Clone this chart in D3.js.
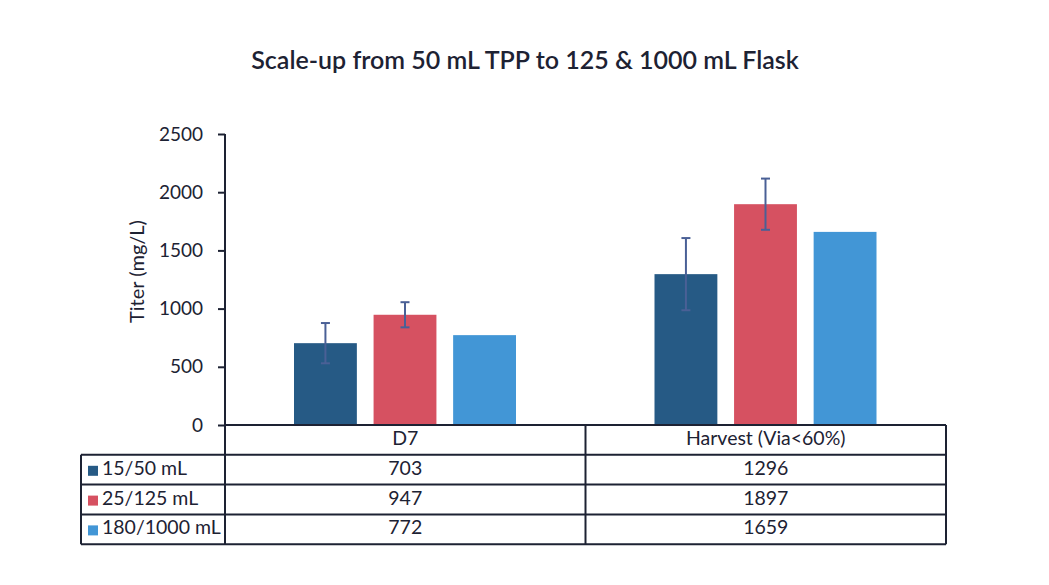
<html>
<head>
<script src="https://d3js.org/d3.v7.min.js"></script>
<style>
  body { margin: 0; background: #fff; }
  text { font-family: Lato, "Noto Sans", sans-serif; fill: #1d2233; }
</style>
</head>
<body>
<svg id="chart" width="1049" height="585"></svg>
<script>
const categories = ['D7', 'Harvest (Via<60%)'];
const seriesNames = ['15/50 mL', '25/125 mL', '180/1000 mL'];
const seriesColors = ['#265a85', '#d65161', '#4296d6'];
const values = [
  [703, 1296],
  [947, 1897],
  [772, 1659]
];
// error bar half-widths (none drawn for the last series)
const errors = [
  [173, 310],
  [108, 220],
  [null, null]
];
const yTicks = [0, 500, 1000, 1500, 2000, 2500];
const title = 'Scale-up from 50 mL TPP to 125 & 1000 mL Flask';
const yLabel = 'Titer (mg/L)';

const svg = d3.select('svg#chart');
const plotLeft = 225, plotRight = 946, plotTop = 134, plotBottom = 425;
const rowH = 29.8;
const legendLeft = 81;
const ink = '#1d2233';
const fs = '19px';

const x = d3.scaleBand().domain(categories).range([plotLeft, plotRight]);
const xs = d3.scaleBand().domain(seriesNames).range([69, 291]).paddingInner(0.21);
const y = d3.scaleLinear().domain([0, 2500]).range([plotBottom, plotTop]);

svg.append('text')
  .attr('x', 525).attr('y', 69)
  .attr('text-anchor', 'middle')
  .style('font-size', '25px')
  .style('font-weight', 600)
  .text(title);

// bars
seriesNames.forEach((s, i) => {
  categories.forEach((c, j) => {
    svg.append('rect')
      .attr('x', x(c) + xs(s))
      .attr('y', y(values[i][j]))
      .attr('width', xs.bandwidth())
      .attr('height', y(0) - y(values[i][j]))
      .attr('fill', seriesColors[i]);
  });
});

// error bars
seriesNames.forEach((s, i) => {
  categories.forEach((c, j) => {
    const e = errors[i][j];
    if (e == null) return;
    const cx = x(c) + xs(s) + xs.bandwidth() / 2;
    const g = svg.append('g').attr('stroke', '#4a6096').attr('stroke-width', 2);
    g.append('line').attr('x1', cx).attr('x2', cx)
      .attr('y1', y(values[i][j] + e)).attr('y2', y(values[i][j] - e));
    [values[i][j] + e, values[i][j] - e].forEach(v => {
      g.append('line').attr('x1', cx - 4.5).attr('x2', cx + 4.5)
        .attr('y1', y(v)).attr('y2', y(v));
    });
  });
});

// y axis
const yAxis = d3.axisLeft(y).tickValues(yTicks).tickFormat(d3.format('d'))
  .tickSize(7).tickPadding(15);
const ya = svg.append('g')
  .attr('transform', `translate(${plotLeft},0)`)
  .call(yAxis);
ya.select('.domain').remove();
ya.selectAll('.tick line').attr('stroke', ink).attr('stroke-width', 2);
ya.selectAll('.tick text').style('font-size', fs).attr('fill', ink)
  .style('font-family', 'Lato, "Noto Sans", sans-serif');
svg.append('line')
  .attr('x1', plotLeft).attr('x2', plotLeft)
  .attr('y1', plotTop).attr('y2', plotBottom + rowH * 4)
  .attr('stroke', ink).attr('stroke-width', 2);

svg.append('text')
  .attr('transform', `translate(144,${(plotTop + plotBottom) / 2 - 8}) rotate(-90)`)
  .attr('text-anchor', 'middle')
  .style('font-size', '20px')
  .text(yLabel);

// data table
const tg = svg.append('g').attr('stroke', ink).attr('stroke-width', 2);
tg.append('line').attr('x1', plotLeft).attr('x2', plotRight).attr('y1', plotBottom).attr('y2', plotBottom);
for (let r = 1; r <= 4; r++) {
  tg.append('line').attr('x1', legendLeft).attr('x2', plotRight)
    .attr('y1', plotBottom + r * rowH).attr('y2', plotBottom + r * rowH);
}
tg.append('line').attr('x1', legendLeft).attr('x2', legendLeft)
  .attr('y1', plotBottom + rowH).attr('y2', plotBottom + 4 * rowH);
categories.forEach(c => {
  tg.append('line').attr('x1', x(c) + x.bandwidth()).attr('x2', x(c) + x.bandwidth())
    .attr('y1', plotBottom).attr('y2', plotBottom + 4 * rowH);
});

categories.forEach(c => {
  svg.append('text')
    .attr('x', x(c) + x.bandwidth() / 2)
    .attr('y', plotBottom + 20)
    .attr('text-anchor', 'middle')
    .style('font-size', '19.5px')
    .text(c);
});

seriesNames.forEach((s, i) => {
  const ry = plotBottom + (i + 1) * rowH;
  svg.append('rect')
    .attr('x', 88).attr('y', ry + 11)
    .attr('width', 10).attr('height', 10)
    .attr('fill', seriesColors[i]);
  svg.append('text')
    .attr('x', 102).attr('y', ry + 20)
    .style('font-size', '19.5px')
    .text(s);
  categories.forEach((c, j) => {
    svg.append('text')
      .attr('x', x(c) + x.bandwidth() / 2)
      .attr('y', ry + 20)
      .attr('text-anchor', 'middle')
      .style('font-size', '19.5px')
      .text(values[i][j]);
  });
});
</script>
</body>
</html>
